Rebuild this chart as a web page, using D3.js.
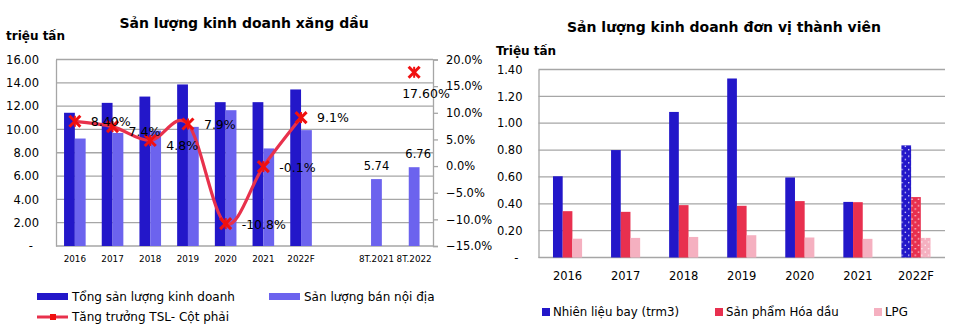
<!DOCTYPE html>
<html><head><meta charset="utf-8">
<script src="https://cdn.jsdelivr.net/npm/d3@7"></script>
<style>body{margin:0;background:#fff;} svg{display:block;font-family:"DejaVu Sans",sans-serif;}</style>
</head><body>
<svg id="c" width="955" height="334"></svg>
<script>
// ---- Left chart data ----
const leftCats = ["2016","2017","2018","2019","2020","2021","2022F","","8T.2021","8T.2022"];
const totalVol = [11.43,12.28,12.82,13.86,12.34,12.34,13.43,null,null,null];
const domesticVol = [9.22,9.70,9.90,10.22,11.65,8.37,9.94,null,5.74,6.76];
const growth = [8.4,7.4,4.8,7.9,-10.8,-0.1,9.1,null,null,17.6];
const growthLabels = ["8.40%","7.4%","4.8%","7.9%","-10.8%","-0.1%","9.1%","","","17.60%"];
const leftTicks = [0,2,4,6,8,10,12,14,16];
const rightTicks = [-15,-10,-5,0,5,10,15,20];

// ---- Right chart data ----
const rightCats = ["2016","2017","2018","2019","2020","2021","2022F"];
const jetFuel = [0.605,0.80,1.084,1.333,0.596,0.414,0.835];
const petrochem = [0.345,0.34,0.39,0.385,0.42,0.412,0.45];
const lpg = [0.14,0.146,0.153,0.166,0.149,0.139,0.146];
const rTicks = [0,0.2,0.4,0.6,0.8,1.0,1.2,1.4];

const svg = d3.select("#c");
const grid = "#a6a6a6";
const cDark = "#2317c9", cLight = "#6c63ee", cLine = "#e8314c", cMark = "#f01010";
const cBlue = "#2317c9", cRed = "#e8304f", cPink = "#f5b0c0";

// patterns
const defs = svg.append("defs");
function dotPattern(id, color){
  const p = defs.append("pattern").attr("id", id).attr("patternUnits","userSpaceOnUse")
    .attr("width",6.6).attr("height",6.6);
  p.append("rect").attr("width",6.6).attr("height",6.6).attr("fill",color);
  p.append("circle").attr("cx",1.2).attr("cy",1.2).attr("r",0.75).attr("fill","#fff");
  p.append("circle").attr("cx",4.5).attr("cy",4.5).attr("r",0.75).attr("fill","#fff");
}
dotPattern("pBlue", cBlue); dotPattern("pRed", cRed); dotPattern("pPink", cPink);

// ===== LEFT CHART =====
const L = {x0:56, x1:433, y0:246, y1:59.5};
const xL = d3.scaleBand().domain(leftCats.map((d,i)=>i)).range([L.x0,L.x1]);
const yL = d3.scaleLinear().domain([0,16]).range([L.y0,L.y1]);
const yR = d3.scaleLinear().domain([-15,20]).range([L.y0,L.y1]);
const gL = svg.append("g");

gL.append("text").attr("x",244).attr("y",28).attr("text-anchor","middle")
  .attr("font-weight","bold").attr("font-size",14).text("Sản lượng kinh doanh xăng dầu");
gL.append("text").attr("x",6).attr("y",40).attr("font-weight","bold").attr("font-size",12).text("triệu tấn");

// grid
gL.selectAll(".gl").data(leftTicks.slice(1)).join("line")
  .attr("x1",L.x0).attr("x2",L.x1).attr("y1",d=>yL(d)).attr("y2",d=>yL(d))
  .attr("stroke",grid).attr("stroke-width",1.3);
// left axis
const axL = d3.axisLeft(yL).tickValues(leftTicks).tickSize(0).tickPadding(17)
  .tickFormat(d=> d===0 ? "-" : d3.format(".2f")(d));
const gAxL = gL.append("g").attr("transform",`translate(${L.x0},0)`).call(axL);
gAxL.select(".domain").attr("stroke",grid).attr("stroke-width",1.3);
gAxL.selectAll("text").attr("font-size",11.5).attr("fill","#000").attr("font-family","DejaVu Sans");
gAxL.selectAll("text").filter(d=>d===0).attr("dx",-6);
// right axis
const axR = d3.axisRight(yR).tickValues(rightTicks).tickSize(5).tickPadding(8)
  .tickFormat(d=>d3.format(".1f")(d)+"%");
const gAxR = gL.append("g").attr("transform",`translate(${L.x1},0)`).call(axR);
gAxR.select(".domain").attr("stroke",grid).attr("stroke-width",1.3);
gAxR.selectAll("line").attr("stroke",grid).attr("stroke-width",1.3);
gAxR.selectAll("text").attr("font-size",11.5).attr("fill","#000").attr("font-family","DejaVu Sans");
// bottom axis line
gL.append("line").attr("x1",L.x0).attr("x2",L.x1).attr("y1",L.y0).attr("y2",L.y0).attr("stroke",grid).attr("stroke-width",1.5);

// bars
const bw = 10.8;
gL.selectAll(".bd").data(totalVol.map((v,i)=>({v,i})).filter(d=>d.v!=null)).join("rect")
  .attr("x",d=>xL(d.i)+xL.bandwidth()/2-bw).attr("width",bw)
  .attr("y",d=>yL(d.v)).attr("height",d=>L.y0-yL(d.v)).attr("fill",cDark);
gL.selectAll(".bl").data(domesticVol.map((v,i)=>({v,i})).filter(d=>d.v!=null)).join("rect")
  .attr("x",d=>{ const c=xL(d.i)+xL.bandwidth()/2; return totalVol[d.i]==null ? c-bw/2 : c; }).attr("width",bw)
  .attr("y",d=>yL(d.v)).attr("height",d=>L.y0-yL(d.v)).attr("fill",cLight);
// bar labels for 8T
gL.selectAll(".blab").data(domesticVol.map((v,i)=>({v,i})).filter(d=>d.v!=null && totalVol[d.i]==null)).join("text")
  .attr("x",d=>xL(d.i)+xL.bandwidth()/2+(d.i===9?4:0)).attr("y",d=>yL(d.v)-9)
  .attr("text-anchor","middle").attr("font-size",11.5).text(d=>d3.format(".2f")(d.v));

// x labels
gL.selectAll(".xl").data(leftCats.map((c,i)=>({c,i}))).join("text")
  .attr("x",d=>xL(d.i)+xL.bandwidth()/2).attr("y",262).attr("text-anchor","middle")
  .attr("font-size",8.8).text(d=>d.c);

// growth line (smoothed)
const gpts = growth.map((v,i)=>({v,i}));
const line = d3.line().defined(d=>d.v!=null).curve(d3.curveCatmullRom.alpha(0))
  .x(d=>xL(d.i)+xL.bandwidth()/2).y(d=>yR(d.v));
gL.append("path").datum(gpts.slice(0,7)).attr("d",line).attr("fill","none")
  .attr("stroke",cLine).attr("stroke-width",3.2);
// markers
function star(g, x, y, s){
  const m = g.append("g").attr("transform",`translate(${x},${y})`).attr("stroke",cMark)
    .attr("stroke-width",3).attr("stroke-linecap","butt");
  m.append("line").attr("x1",-s).attr("y1",-s).attr("x2",s).attr("y2",s);
  m.append("line").attr("x1",-s).attr("y1",s).attr("x2",s).attr("y2",-s);
  m.append("line").attr("x1",0).attr("y1",-s).attr("x2",0).attr("y2",s).attr("stroke-width",2);
}
gpts.filter(d=>d.v!=null).forEach(d=>star(gL, xL(d.i)+xL.bandwidth()/2, yR(d.v), 5.5));
// growth labels
const lblOff = {0:[16,5],1:[16,9],2:[16,10],3:[16,5],4:[16,5],5:[16,5],6:[16,4],9:[-12,26]};
gpts.filter(d=>d.v!=null).forEach(d=>{
  const o = lblOff[d.i];
  gL.append("text").attr("x",xL(d.i)+xL.bandwidth()/2+o[0]).attr("y",yR(d.v)+o[1])
    .attr("font-size",12.5).attr("fill","#000").text(growthLabels[d.i]);
});

// legend left
const lg = gL.append("g");
lg.append("rect").attr("x",37).attr("y",293).attr("width",31).attr("height",7).attr("fill",cDark);
lg.append("text").attr("x",72).attr("y",301).attr("font-size",12).text("Tổng sản lượng kinh doanh");
lg.append("rect").attr("x",269).attr("y",293).attr("width",31).attr("height",7).attr("fill",cLight);
lg.append("text").attr("x",304).attr("y",301).attr("font-size",12).text("Sản lượng bán nội địa");
lg.append("line").attr("x1",37).attr("x2",68).attr("y1",317).attr("y2",317).attr("stroke",cLine).attr("stroke-width",3);
lg.append("rect").attr("x",50).attr("y",314).attr("width",6).attr("height",6).attr("fill",cMark);
lg.append("text").attr("x",72).attr("y",321).attr("font-size",12).text("Tăng trưởng TSL- Cột phải");

// ===== RIGHT CHART =====
const R = {x0:538.5, x1:945, y0:257.5, y1:69.5};
const xR2 = d3.scaleBand().domain(rightCats).range([R.x0,R.x1]);
const yR2 = d3.scaleLinear().domain([0,1.4]).range([R.y0,R.y1]);
const gR = svg.append("g");
gR.append("text").attr("x",724).attr("y",32).attr("text-anchor","middle")
  .attr("font-weight","bold").attr("font-size",14).text("Sản lượng kinh doanh đơn vị thành viên");
gR.append("text").attr("x",496).attr("y",55).attr("font-weight","bold").attr("font-size",12).text("Triệu tấn");

gR.selectAll(".gl").data(rTicks.slice(1)).join("line")
  .attr("x1",R.x0).attr("x2",R.x1).attr("y1",d=>yR2(d)).attr("y2",d=>yR2(d))
  .attr("stroke",grid).attr("stroke-width",1.3);
const axR2 = d3.axisLeft(yR2).tickValues(rTicks).tickSize(0).tickPadding(16)
  .tickFormat(d=> d===0 ? "-" : d3.format(".2f")(d));
const gAx2 = gR.append("g").attr("transform",`translate(${R.x0},0)`).call(axR2);
gAx2.select(".domain").attr("stroke",grid).attr("stroke-width",1.3);
gAx2.selectAll("text").attr("font-size",11.5).attr("fill","#000").attr("font-family","DejaVu Sans");
gAx2.selectAll("text").filter(d=>d===0).attr("dx",-4);
gR.append("line").attr("x1",R.x0).attr("x2",R.x1).attr("y1",R.y0).attr("y2",R.y0).attr("stroke",grid).attr("stroke-width",1.5);

const series = [{vals:jetFuel,c:cBlue,p:"pBlue"},{vals:petrochem,c:cRed,p:"pRed"},{vals:lpg,c:cPink,p:"pPink"}];
const bw2 = 9.7;
series.forEach((s,k)=>{
  gR.selectAll(".s"+k).data(rightCats.map((c,i)=>({c,v:s.vals[i]}))).join("rect")
    .attr("x",d=>xR2(d.c)+xR2.bandwidth()/2-1.5*bw2+k*bw2).attr("width",bw2)
    .attr("y",d=>yR2(d.v)).attr("height",d=>R.y0-yR2(d.v))
    .attr("fill",d=>d.c==="2022F" ? `url(#${s.p})` : s.c);
});
gR.selectAll(".xl").data(rightCats).join("text")
  .attr("x",d=>xR2(d)+xR2.bandwidth()/2).attr("y",280).attr("text-anchor","middle")
  .attr("font-size",11.5).text(d=>d);

// legend right
const lr = gR.append("g");
[[542,"Nhiên liệu bay (trm3)",cBlue],[715,"Sản phẩm Hóa dầu",cRed],[874,"LPG",cPink]].forEach(([x,t,c])=>{
  lr.append("rect").attr("x",x).attr("y",308).attr("width",8).attr("height",8).attr("fill",c);
  lr.append("text").attr("x",x+11).attr("y",316).attr("font-size",11.8).text(t);
});
</script>
</body></html>
